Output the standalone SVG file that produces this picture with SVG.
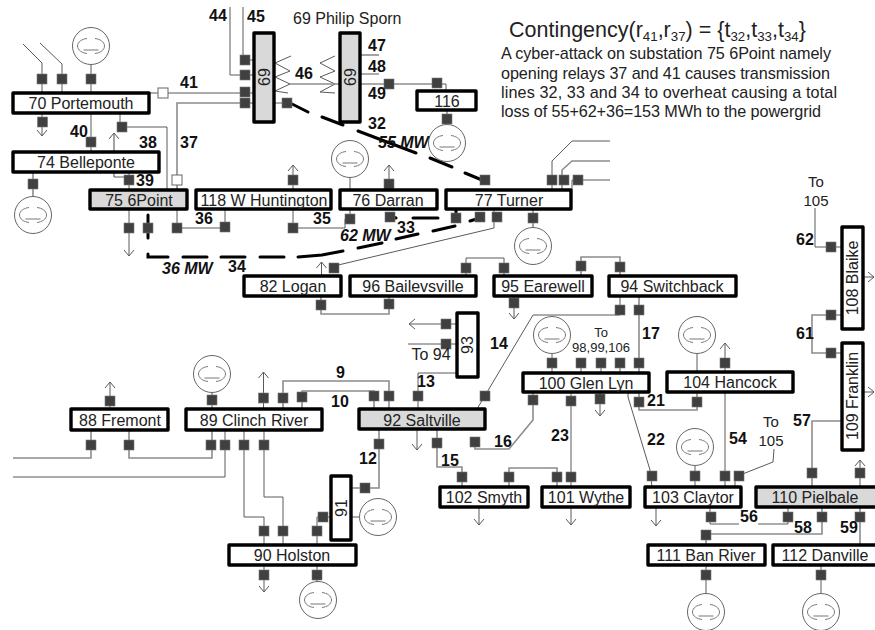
<svg xmlns="http://www.w3.org/2000/svg" width="875" height="630" viewBox="0 0 875 630">
<style>
text{font-family:"Liberation Sans",Arial,sans-serif;fill:#222}
.bus{fill:#fff;stroke:#000;stroke-width:3.4;stroke-linejoin:round}
.hot{fill:#d9d9d9}
.n{font-size:16px;text-anchor:middle}
.lab{font-size:16px;font-weight:bold;fill:#111}
.mw{font-size:16px;font-weight:bold;font-style:italic;fill:#111}
.s{font-size:15px;text-anchor:middle}
.s2{font-size:13px;text-anchor:middle}
.p{font-size:16.2px}
.l{fill:none;stroke:#5a5a5a;stroke-width:1}
.g{fill:none;stroke:#8c8c8c;stroke-width:1.6}
.t{fill:none;stroke:#000;stroke-width:3;stroke-linecap:round}
.o{fill:#fff;stroke:#666;stroke-width:1}
.gen{fill:#fff;stroke:#666;stroke-width:1}
.gi{fill:none;stroke:#777;stroke-width:1}
.br{fill:#404040;stroke:#777;stroke-width:.6}
</style>
<defs>
<marker id="a" markerUnits="userSpaceOnUse" markerWidth="12" markerHeight="12" refX="6" refY="5" orient="auto" overflow="visible"><path d="M0,0L6,5L0,10" fill="none" stroke="#5a5a5a" stroke-width="1"/></marker>
<rect id="b" class="br" x="-5" y="-5" width="10" height="10"/>
<g id="gn"><circle class="gen" r="18.5"/><path class="gi" d="M-4,-7.5C-9,-7-13.5-4-13.5,0S-9,7-4,7.5M4,-7.5C9,-7 13.5,-4 13.5,0S9,7 4,7.5M-7.5,4H7.5"/></g>
</defs>

<g id="connectors">
<path class="l" d="M42,93V63L23,44"/>
<path class="l" d="M62,93V64L40,43"/>
<path class="l" d="M91,93V64"/>
<path class="l" d="M42,113V136" marker-end="url(#a)"/>
<path class="l" d="M91,113V152"/>
<path class="l" d="M120,113V127H167V190"/>
<path class="l" d="M149,93H254"/>
<path class="g" d="M177,190V103H254"/>
<path class="g" d="M114,177V133" marker-end="url(#a)"/>
<path class="l" d="M114,177H129M129,172V190"/>
<path class="g" d="M33,172V197"/>
<path class="l" d="M243,7V60H254"/>
<path class="l" d="M230,7V75H254"/>
<path class="l" d="M274,103H287"/>
<path class="l" d="M291,56L275,63L290,71L275,77L290,84L275,91L288,93"/>
<path class="l" d="M335,56L320,63L335,71L320,77L335,84L320,92L335,93"/>
<path class="g" d="M290,84H340"/>
<path class="g" d="M360,84H437"/>
<path class="l" d="M437,84H446V91"/>
<path class="g" d="M360,55H379"/>
<path class="l" d="M360,74H379"/>
<path class="g" d="M447,110V125"/>
<path class="l" d="M129,209V256" marker-end="url(#a)"/>
<path class="l" d="M177,209V228H225V209"/>
<path class="l" d="M293,190V165" marker-end="url(#a)"/>
<path class="l" d="M293,209V228H345V219"/>
<path class="l" d="M350,209V219M350,177V190"/>
<path class="l" d="M389,190V165" marker-end="url(#a)"/>
<path class="l" d="M552,190V161L572,141H610"/>
<path class="g" d="M562,190V170L572,161H610"/>
<path class="l" d="M572,190V180H610"/>
<path class="l" d="M494,209V228L334,266"/>
<path class="l" d="M321.5,276V262" marker-end="url(#a)"/>
<path class="g" d="M533,209V228"/>
<path class="g" d="M321,296V314H389V296"/>
<path class="l" d="M466,276V258H504V276"/>
<path class="g" d="M581,276V257H620V276"/>
<path class="l" d="M514,296V319" marker-end="url(#a)"/>
<path class="l" d="M620,296V315H533L477,409"/>
<path class="g" d="M639,296V373"/>
<path class="l" d="M457,324H409" marker-end="url(#a)"/>
<path class="l" d="M408,344H457"/>
<path class="l" d="M457,373H418V409"/>
<path class="l" d="M552,354V373M581,358V373M601,358V373M620,358V373"/>
<path class="g" d="M533,392V420L509,449H475V442"/>
<path class="l" d="M571,392V487"/>
<path class="l" d="M600,392V416" marker-end="url(#a)"/>
<path class="g" d="M639,392V410H697V392"/>
<path class="l" d="M628,392V397L650,470L652,487"/>
<path class="l" d="M697,354V372"/>
<path class="l" d="M725,372V343" marker-end="url(#a)"/>
<path class="l" d="M725,392V487"/>
<path class="l" d="M695,466V487"/>
<path class="l" d="M735,487V477L773,462L774,449"/>
<path class="l" d="M656,507V526" marker-end="url(#a)"/>
<path class="l" d="M710,507V524H739M758,524H788V507"/>
<path class="g" d="M822,507V534H706V545"/>
<path class="g" d="M860,507V545"/>
<path class="g" d="M812,487V421H842"/>
<path class="l" d="M860,487V460" marker-end="url(#a)"/>
<path class="l" d="M706,565V594M821,565V594"/>
<path class="l" d="M815,208V247H842"/>
<path class="g" d="M842,315H812V353H842"/>
<path class="l" d="M863,277H874" marker-end="url(#a)"/>
<path class="l" d="M863,392H874" marker-end="url(#a)"/>
<path class="l" d="M110,409V382" marker-end="url(#a)"/>
<path class="g" d="M91,430V458H13"/>
<path class="g" d="M129,430V458H212V430"/>
<path class="l" d="M225,430V477H13"/>
<path class="l" d="M244,430V517H264V545"/>
<path class="l" d="M264,430V497H283V545"/>
<path class="l" d="M317,545V517H331"/>
<path class="l" d="M212,392V409"/>
<path class="l" d="M263.5,409V372" marker-end="url(#a)"/>
<path class="g" d="M283,409V381H389V409"/>
<path class="g" d="M302,409V391H374V409"/>
<path class="g" d="M379,429V488H351"/>
<path class="l" d="M351,517H360"/>
<path class="l" d="M417,429V450" marker-end="url(#a)"/>
<path class="g" d="M437,429V467H462V487"/>
<path class="g" d="M509,487V468H557V487"/>
<path class="l" d="M479,507V525" marker-end="url(#a)"/>
<path class="l" d="M571,507V525" marker-end="url(#a)"/>
<path class="l" d="M264,565V592" marker-end="url(#a)"/>
<path class="l" d="M317,565V582"/>
<path class="t" d="M292,104L308,112M322,117L343,125M358,131L416,153M430,158L452,167M465,173L482,180"/>
<path class="t" d="M390,216L396,218M413,218H438M456,209V214M433,231L455,226M470,221L483,217M396,239L418,234M358,248L382,243M298,257L322,255L343,251"/>
<path class="t" d="M148,215V238M148,254V257H168M183,257H207M221,257H245M260,257H284"/>
<rect class="o" x="158" y="88" width="10" height="10"/>
<rect class="o" x="172" y="175" width="10" height="10"/>
<use href="#b" x="42" y="79"/><use href="#b" x="62" y="79"/><use href="#b" x="91" y="79"/>
<use href="#b" x="42.5" y="122"/><use href="#b" x="91" y="142"/><use href="#b" x="122" y="127"/>
<use href="#b" x="33" y="184"/><use href="#b" x="129" y="180"/>
<use href="#b" x="245" y="60"/><use href="#b" x="245" y="75"/><use href="#b" x="245" y="92"/><use href="#b" x="245" y="103"/><use href="#b" x="287" y="103"/>
<use href="#b" x="389" y="84"/><use href="#b" x="437" y="83"/><use href="#b" x="447" y="119"/>
<use href="#b" x="129" y="228"/><use href="#b" x="148" y="228"/><use href="#b" x="177" y="228"/><use href="#b" x="225" y="227"/><use href="#b" x="293" y="228"/>
<use href="#b" x="293" y="180"/><use href="#b" x="389" y="184"/><use href="#b" x="350" y="219"/><use href="#b" x="390" y="217"/>
<use href="#b" x="485" y="180"/><use href="#b" x="552" y="180"/><use href="#b" x="564" y="180"/><use href="#b" x="578" y="180"/>
<use href="#b" x="456" y="218"/><use href="#b" x="480" y="217"/><use href="#b" x="497" y="217"/><use href="#b" x="533" y="218"/>
<use href="#b" x="334" y="268"/><use href="#b" x="466" y="268"/><use href="#b" x="504" y="268"/><use href="#b" x="581" y="266"/><use href="#b" x="620" y="267"/>
<use href="#b" x="321" y="305"/><use href="#b" x="389" y="304"/><use href="#b" x="514" y="303"/><use href="#b" x="620" y="310"/><use href="#b" x="639" y="310"/>
<use href="#b" x="446" y="324"/><use href="#b" x="446" y="344"/>
<use href="#b" x="552" y="363"/><use href="#b" x="581" y="363"/><use href="#b" x="601" y="363"/><use href="#b" x="620" y="363"/><use href="#b" x="639" y="363"/>
<use href="#b" x="533" y="400"/><use href="#b" x="571" y="401"/><use href="#b" x="600" y="399"/><use href="#b" x="639" y="402"/><use href="#b" x="697" y="402"/>
<use href="#b" x="725" y="363"/>
<use href="#b" x="652" y="476"/><use href="#b" x="695" y="476"/><use href="#b" x="725" y="476"/><use href="#b" x="739" y="476"/>
<use href="#b" x="812" y="473"/><use href="#b" x="860" y="473"/>
<use href="#b" x="711" y="517"/><use href="#b" x="788" y="517"/><use href="#b" x="822" y="517"/><use href="#b" x="860" y="517"/>
<use href="#b" x="706" y="535"/><use href="#b" x="706" y="575"/><use href="#b" x="821" y="575"/>
<use href="#b" x="831" y="247"/><use href="#b" x="831" y="315"/><use href="#b" x="831" y="353"/>
<use href="#b" x="110" y="401"/><use href="#b" x="212" y="400"/><use href="#b" x="263.5" y="398"/><use href="#b" x="283" y="398"/><use href="#b" x="302" y="397"/>
<use href="#b" x="374" y="396"/><use href="#b" x="389" y="396"/><use href="#b" x="418" y="396"/><use href="#b" x="485" y="396"/>
<use href="#b" x="91" y="445"/><use href="#b" x="129" y="445"/><use href="#b" x="211" y="445"/><use href="#b" x="225" y="445"/><use href="#b" x="244" y="445"/><use href="#b" x="264" y="445"/>
<use href="#b" x="379" y="444"/><use href="#b" x="365" y="488"/><use href="#b" x="437" y="443"/><use href="#b" x="475" y="442"/>
<use href="#b" x="462" y="477"/><use href="#b" x="509" y="477"/><use href="#b" x="557" y="477"/><use href="#b" x="571" y="477"/>
<use href="#b" x="323" y="517"/><use href="#b" x="264" y="531"/><use href="#b" x="283" y="531"/><use href="#b" x="317" y="531"/><use href="#b" x="264" y="575"/><use href="#b" x="317" y="575"/>
</g>

<g id="generators">
<use id="gen70" href="#gn" x="91" y="46"/>
<use id="gen74" href="#gn" x="33" y="215"/>
<use id="gen116" href="#gn" x="447" y="143"/>
<use id="gen76" href="#gn" x="350" y="159"/>
<use id="gen77" href="#gn" x="533" y="246"/>
<use id="gen89" href="#gn" x="212" y="374"/>
<use id="gen91" href="#gn" x="378" y="517"/>
<use id="gen90" href="#gn" x="318" y="600"/>
<use id="gen100" href="#gn" x="552" y="335"/>
<use id="gen104" href="#gn" x="697" y="335"/>
<use id="gen103" href="#gn" x="695" y="447"/>
<use id="gen111" href="#gn" x="706" y="612"/>
<use id="gen112" href="#gn" x="821" y="612"/>
</g>

<g id="n70"><rect class="bus" x="13" y="93" width="136" height="20"/><text class="n" x="81" y="109">70 Portemouth</text></g>
<g id="n74"><rect class="bus" x="13" y="152" width="146" height="20"/><text class="n" x="86" y="168">74 Belleponte</text></g>
<g id="n75"><rect class="bus hot" x="90" y="190" width="97" height="19"/><text class="n" x="139" y="206">75 6Point</text></g>
<g id="n118"><rect class="bus" x="196" y="190" width="135" height="19"/><text class="n" x="264" y="206">118 W Huntington</text></g>
<g id="n76"><rect class="bus" x="340" y="190" width="97" height="19"/><text class="n" x="388" y="206">76 Darran</text></g>
<g id="n77"><rect class="bus" x="446" y="190" width="125" height="19"/><text class="n" x="509" y="206">77 Turner</text></g>
<g id="n69a"><rect class="bus hot" x="254" y="33" width="20" height="89"/><text class="n" transform="translate(270,77) rotate(-90)">69</text></g>
<g id="n69b"><rect class="bus hot" x="340" y="33" width="20" height="89"/><text class="n" transform="translate(356,77) rotate(-90)">69</text></g>
<g id="n116"><rect class="bus" x="417" y="91" width="59" height="19"/><text class="n" x="447" y="107">116</text></g>
<g id="n82"><rect class="bus" x="244" y="276" width="97" height="20"/><text class="n" x="293" y="292">82 Logan</text></g>
<g id="n96"><rect class="bus" x="350" y="276" width="126" height="20"/><text class="n" x="413" y="292">96 Bailevsville</text></g>
<g id="n95"><rect class="bus" x="494" y="276" width="98" height="20"/><text class="n" x="543" y="292">95 Earewell</text></g>
<g id="n94"><rect class="bus" x="609" y="276" width="127" height="20"/><text class="n" x="672" y="292">94 Switchback</text></g>
<g id="n93"><rect class="bus" x="457" y="313" width="21" height="64"/><text class="n" transform="translate(473,345) rotate(-90)">93</text></g>
<g id="n100"><rect class="bus" x="523" y="373" width="126" height="19"/><text class="n" x="586" y="389">100 Glen Lyn</text></g>
<g id="n104"><rect class="bus" x="667" y="372" width="126" height="20"/><text class="n" x="730" y="388">104 Hancock</text></g>
<g id="n88"><rect class="bus" x="71" y="409" width="97" height="21"/><text class="n" x="120" y="426">88 Fremont</text></g>
<g id="n89"><rect class="bus" x="186" y="409" width="136" height="21"/><text class="n" x="254" y="426">89 Clinch River</text></g>
<g id="n92"><rect class="bus hot" x="359" y="409" width="126" height="20"/><text class="n" x="422" y="426">92 Saltville</text></g>
<g id="n91"><rect class="bus" x="331" y="476" width="20" height="64"/><text class="n" transform="translate(347,508) rotate(-90)">91</text></g>
<g id="n90"><rect class="bus" x="229" y="545" width="127" height="20"/><text class="n" x="292" y="561">90 Holston</text></g>
<g id="n102"><rect class="bus" x="440" y="487" width="88" height="20"/><text class="n" x="484" y="503">102 Smyth</text></g>
<g id="n101"><rect class="bus" x="542" y="487" width="88" height="20"/><text class="n" x="586" y="503">101 Wythe</text></g>
<g id="n103"><rect class="bus" x="645" y="487" width="96" height="20"/><text class="n" x="693" y="503">103 Claytor</text></g>
<g id="n110"><rect class="bus hot" x="756" y="487" width="125" height="20"/><text class="n" x="815" y="503">110 Pielbale</text></g>
<g id="n111"><rect class="bus" x="648" y="545" width="117" height="20"/><text class="n" x="706" y="561">111 Ban River</text></g>
<g id="n112"><rect class="bus" x="773" y="545" width="110" height="20"/><text class="n" x="825" y="561">112 Danville</text></g>
<g id="n108"><rect class="bus" x="842" y="227" width="21" height="102"/><text class="n" transform="translate(858,278) rotate(-90)">108 Blaike</text></g>
<g id="n109"><rect class="bus" x="842" y="343" width="21" height="107"/><text class="n" transform="translate(858,396) rotate(-90)">109 Franklin</text></g>

<g id="labels">
<text x="293" y="24" font-size="16">69 Philip Sporn</text>
<text class="lab" x="209" y="21">44</text><text class="lab" x="247" y="22">45</text><text class="lab" x="180" y="88">41</text>
<text class="lab" x="70" y="137">40</text><text class="lab" x="139" y="148">38</text><text class="lab" x="180" y="148">37</text>
<text class="lab" x="136" y="186">39</text><text class="lab" x="195" y="224">36</text><text class="lab" x="295" y="79">46</text>
<text class="lab" x="368" y="51">47</text><text class="lab" x="368" y="72">48</text><text class="lab" x="368" y="99">49</text>
<text class="lab" x="368" y="129">32</text><text class="lab" x="313" y="224">35</text><text class="lab" x="397" y="233">33</text><text class="lab" x="228" y="272">34</text>
<text class="mw" x="378" y="148">55 MW</text><text class="mw" x="340" y="241">62 MW</text><text class="mw" x="162" y="274">36 MW</text>
<text class="lab" x="336" y="378">9</text><text class="lab" x="331" y="407">10</text><text class="lab" x="417" y="387">13</text><text class="lab" x="490" y="349">14</text>
<text class="lab" x="359" y="464">12</text><text class="lab" x="441" y="466">15</text><text class="lab" x="494" y="447">16</text><text class="lab" x="551" y="441">23</text>
<text class="lab" x="642" y="339">17</text><text class="lab" x="647" y="406">21</text><text class="lab" x="796" y="339">61</text><text class="lab" x="796" y="245">62</text>
<text class="lab" x="647" y="445">22</text><text class="lab" x="729" y="444">54</text><text class="lab" x="793" y="426">57</text>
<text class="lab" x="740" y="522">56</text><text class="lab" x="794" y="533">58</text><text class="lab" x="840" y="533">59</text>
<text class="s" x="816" y="187">To</text><text class="s" x="816" y="206">105</text>
<text class="s" x="771" y="427">To</text><text class="s" x="771" y="446">105</text>
<text class="s" x="431" y="360" style="font-size:16px">To 94</text>
<text class="s2" x="601" y="337">To</text><text class="s2" x="601" y="352">98,99,106</text>
<text x="509" y="37" font-size="21.5">Contingency(r<tspan font-size="13.3" dy="4">41</tspan><tspan dy="-4">,r</tspan><tspan font-size="13.3" dy="4">37</tspan><tspan dy="-4">) = {t</tspan><tspan font-size="13.3" dy="4">32</tspan><tspan dy="-4">,t</tspan><tspan font-size="13.3" dy="4">33</tspan><tspan dy="-4">,t</tspan><tspan font-size="13.3" dy="4">34</tspan><tspan dy="-4">}</tspan></text>
<text class="p" x="501" y="59" textLength="330">A cyber-attack on substation 75 6Point namely</text>
<text class="p" x="501" y="79" textLength="329">opening relays 37 and 41 causes transmission</text>
<text class="p" x="501" y="98" textLength="336">lines 32, 33 and 34 to overheat causing a total</text>
<text class="p" x="501" y="117" textLength="320">loss of 55+62+36=153 MWh to the powergrid</text>
</g>
</svg>
